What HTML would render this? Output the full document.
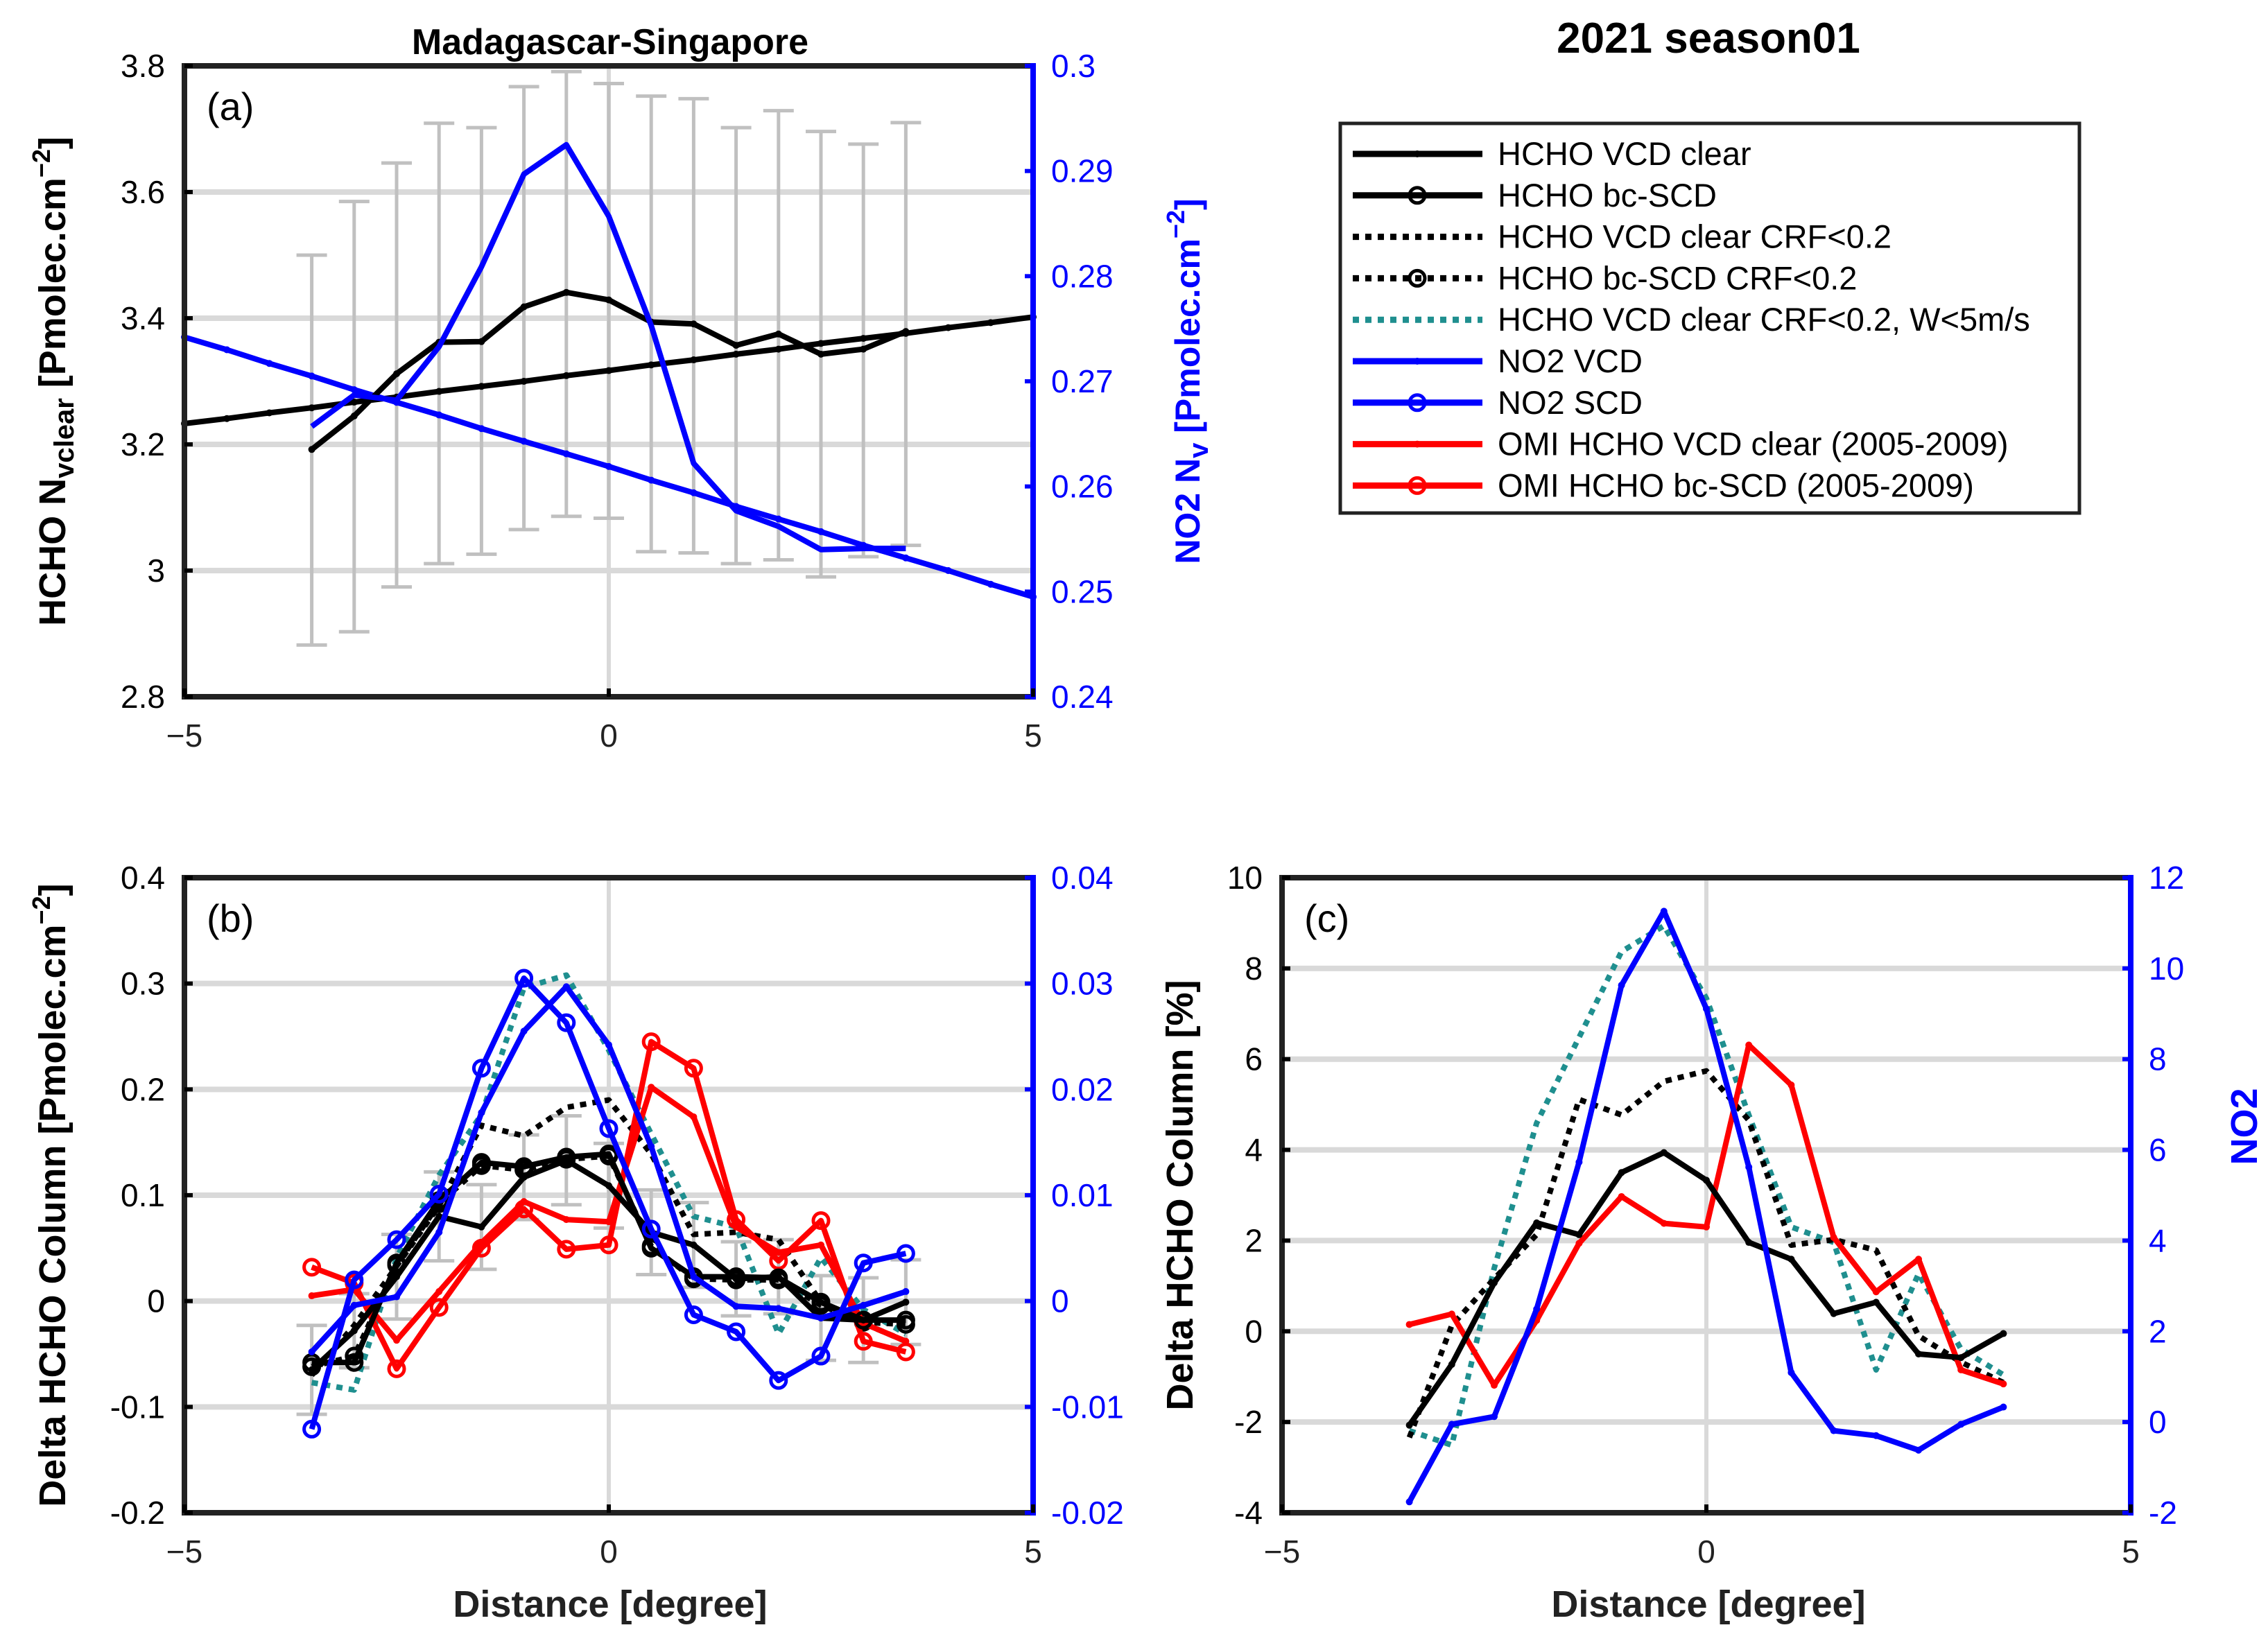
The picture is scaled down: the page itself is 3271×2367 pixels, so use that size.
<!DOCTYPE html>
<html><head><meta charset="utf-8"><style>
html,body{margin:0;padding:0;background:#fff;}
svg{display:block;}
text{font-family:"Liberation Sans Narrow","Liberation Sans",sans-serif;}
</style></head><body>
<svg id="fig" width="3271" height="2367" viewBox="0 0 3271 2367" xmlns="http://www.w3.org/2000/svg"></svg>
<script>
const xs = [-3.5,-3,-2.5,-2,-1.5,-1,-0.5,0,0.5,1,1.5,2,2.5,3,3.5];
// Panel (a)
const aHchoBcScd = [3.192,3.245,3.312,3.362,3.363,3.418,3.441,3.429,3.394,3.391,3.357,3.375,3.343,3.351,3.379];
const aErrHigh = [3.50,3.585,3.646,3.709,3.702,3.767,3.791,3.772,3.752,3.748,3.702,3.729,3.696,3.676,3.710];
const aErrLow = [2.882,2.903,2.974,3.011,3.026,3.065,3.086,3.083,3.030,3.028,3.011,3.017,2.990,3.022,3.040];
const aFitX = [-5,-4.5,-4,-3.5,-3,-2.5,-2,-1.5,-1,-0.5,0,0.5,1,1.5,2,2.5,3,3.5,4,4.5,5];
const aHchoFit = [3.233,3.241,3.250,3.258,3.267,3.275,3.284,3.292,3.300,3.309,3.317,3.326,3.334,3.343,3.351,3.360,3.368,3.376,3.385,3.393,3.402];
const aNo2Scd = [0.2657,0.2687,0.2682,0.2733,0.2809,0.2897,0.2925,0.2857,0.2753,0.2622,0.2577,0.2562,0.2540,0.2541,0.2541];
const aNo2Fit = [0.2742,0.2730,0.2717,0.2705,0.2692,0.2680,0.2668,0.2655,0.2643,0.2631,0.2619,0.2606,0.2594,0.2581,0.2569,0.2557,0.2544,0.2532,0.2520,0.2507,0.2495];
// Panel (b)
const bHchoVcd = [-0.065,-0.028,0.023,0.080,0.070,0.117,0.133,0.109,0.065,0.053,0.021,0.023,-0.016,-0.018,-0.001];
const bHchoBc = [-0.058,-0.058,0.036,0.095,0.131,0.127,0.136,0.139,0.050,0.023,0.023,0.022,-0.001,-0.018,-0.018];
const bHchoVcdCrf = [-0.070,-0.023,0.033,0.090,0.166,0.156,0.183,0.190,0.139,0.063,0.065,0.058,-0.001,-0.021,-0.038];
const bHchoBcCrf = [-0.062,-0.052,0.034,0.092,0.128,0.124,0.134,0.137,0.052,0.021,0.020,0.020,-0.004,-0.020,-0.022];
const bHchoW = [-0.077,-0.084,0.041,0.119,0.176,0.296,0.308,0.237,0.158,0.080,0.070,-0.031,0.041,-0.008,-0.031];
const bNo2Vcd = [-0.0048,-0.0004,0.0004,0.0065,0.0178,0.0255,0.0297,0.0242,0.0146,0.0023,-0.0005,-0.0007,-0.0016,-0.0004,0.0009];
const bNo2Scd = [-0.0121,0.0020,0.0058,0.0101,0.0220,0.0305,0.0263,0.0163,0.0068,-0.0013,-0.0029,-0.0075,-0.0052,0.0036,0.0045];
const bOmiVcd = [0.005,0.011,-0.037,0.009,0.055,0.094,0.077,0.075,0.202,0.174,0.070,0.046,0.053,-0.021,-0.038];
const bOmiBc = [0.032,0.017,-0.064,-0.006,0.050,0.087,0.049,0.053,0.245,0.220,0.077,0.038,0.076,-0.038,-0.048];
const bErrHalf = [0.042,0.035,0.040,0.042,0.040,0.040,0.042,0.040,0.040,0.040,0.035,0.035,0.040,0.040,0.040];
// Panel (c)
const cHchoVcd = [-2.07,-0.73,1.07,2.39,2.13,3.50,3.94,3.33,1.96,1.59,0.39,0.64,-0.50,-0.58,-0.05];
const cHchoVcdCrf = [-2.34,0.13,1.16,2.13,5.11,4.77,5.51,5.74,4.65,1.90,2.02,1.79,-0.10,-0.68,-1.13];
const cHchoW = [-2.19,-2.51,1.39,4.59,6.48,8.37,8.94,7.34,4.77,2.30,1.96,-0.85,1.27,-0.39,-0.96];
const cOmi = [0.15,0.38,-1.19,0.24,1.94,2.97,2.38,2.30,6.31,5.43,2.07,0.87,1.59,-0.85,-1.16];
const cNo2 = [-1.76,-0.05,0.12,2.49,5.73,9.63,11.26,9.11,5.62,1.09,-0.19,-0.30,-0.62,-0.05,0.33];
// ticks
const xTicks = [-5,0,5];
const aLeftTicks = [2.8,3,3.2,3.4,3.6,3.8];
const aLeftLabels = ["2.8","3","3.2","3.4","3.6","3.8"];
const aRightTicks = [0.24,0.25,0.26,0.27,0.28,0.29,0.30];
const aRightLabels = ["0.24","0.25","0.26","0.27","0.28","0.29","0.3"];
const bLeftTicks = [-0.2,-0.1,0,0.1,0.2,0.3,0.4];
const bLeftLabels = ["-0.2","-0.1","0","0.1","0.2","0.3","0.4"];
const bRightTicks = [-0.02,-0.01,0,0.01,0.02,0.03,0.04];
const bRightLabels = ["-0.02","-0.01","0","0.01","0.02","0.03","0.04"];
const cLeftTicks = [-4,-2,0,2,4,6,8,10];
const cLeftLabels = ["-4","-2","0","2","4","6","8","10"];
const cRightTicks = [-2,0,2,4,6,8,10,12];
const cRightLabels = ["-2","0","2","4","6","8","10","12"];

const NS="http://www.w3.org/2000/svg";
const svg=document.getElementById('fig');
function mk(tag,attrs,parent,txt){const e=document.createElementNS(NS,tag);for(const k in attrs)e.setAttribute(k,attrs[k]);if(txt!==undefined)e.textContent=txt;(parent||svg).appendChild(e);return e;}
function axis(x0,x1,y0,y1,xmin,xmax,ymin,ymax){return{x:v=>x0+(v-xmin)/(xmax-xmin)*(x1-x0),y:v=>y1-(v-ymin)/(ymax-ymin)*(y1-y0)};}
const BLUE="#0000ff",RED="#ff0000",TEAL="#1f8f8f",GRID="#d9d9d9";

function drawLine(g,X,Y,xa,ya,color,name,dash,marker){
  const pts=xa.map((v,i)=>X(v).toFixed(1)+','+Y(ya[i]).toFixed(1)).join(' ');
  const pl=mk('polyline',{points:pts,fill:'none',stroke:color,'stroke-width':8,'stroke-linejoin':'round','stroke-dasharray':dash||'none'},g);
  
  
  xa.forEach((v,i)=>{
    if(marker==='o'){const c=mk('circle',{cx:X(v),cy:Y(ya[i]),r:11,fill:'none',stroke:color,'stroke-width':5},g);
      
      }
    else if(marker==='.'){const c=mk('circle',{cx:X(v),cy:Y(ya[i]),r:5,fill:color},g);
      
      }
  });
}
function panel(p){
  const g=mk('g',{});
  
  
  const L=axis(p.x0,p.x1,p.y0,p.y1,-5,5,p.lmin,p.lmax);
  const R=axis(p.x0,p.x1,p.y0,p.y1,-5,5,p.rmin,p.rmax);
  p.lt.forEach(t=>{const l=mk('line',{x1:p.x0,x2:p.x1,y1:L.y(t),y2:L.y(t),stroke:GRID,'stroke-width':8},g);
    
    });
  const v=mk('line',{x1:L.x(0),x2:L.x(0),y1:p.y0,y2:p.y1,stroke:GRID,'stroke-width':6},g);
  
  
  p.draw(g,L,R);
  const ax=mk('path',{d:`M${p.x1},${p.y0} L${p.x0},${p.y0} L${p.x0},${p.y1} L${p.x1},${p.y1}`,fill:'none',stroke:'#222','stroke-width':8},g);
  
  
  const ra=mk('line',{x1:p.x1,x2:p.x1,y1:p.y0-4,y2:p.y1+4,stroke:BLUE,'stroke-width':8},g);
  
  
  p.lt.forEach((t,i)=>{
    mk('line',{x1:p.x0,x2:p.x0+12,y1:L.y(t),y2:L.y(t),stroke:'#000','stroke-width':6},g);
    const tx=mk('text',{x:p.x0-28,y:L.y(t)+16,'text-anchor':'end','font-size':46,fill:'#000'},g,p.ll[i]);
    
    
  });
  p.rt.forEach((t,i)=>{
    mk('line',{x1:p.x1-12,x2:p.x1,y1:R.y(t),y2:R.y(t),stroke:BLUE,'stroke-width':6},g);
    const tx=mk('text',{x:p.x1+26,y:R.y(t)+16,'text-anchor':'start','font-size':46,fill:BLUE},g,p.rl[i]);
    
    
  });
  xTicks.forEach(t=>{
    mk('line',{x1:L.x(t),x2:L.x(t),y1:p.y1,y2:p.y1-12,stroke:'#000','stroke-width':6},g);
    const tx=mk('text',{x:L.x(t),y:p.y1+72,'text-anchor':'middle','font-size':46,fill:'#222'},g,String(t).replace('-','−'));
    
    
  });
  const pl=mk('text',{x:p.x0+32,y:p.y0+78,'font-size':56,fill:'#000'},g,'('+p.id+')');
  
  
}

panel({id:'a',x0:266,x1:1490,y0:95,y1:1005,lmin:2.8,lmax:3.8,rmin:0.24,rmax:0.30,lt:aLeftTicks,ll:aLeftLabels,rt:aRightTicks,rl:aRightLabels,
 draw:(g,L,R)=>{
  xs.forEach((x,i)=>{
    const X=L.x(x);
    const e=mk('path',{d:`M${X},${L.y(aErrLow[i])} V${L.y(aErrHigh[i])} M${X-22},${L.y(aErrLow[i])} H${X+22} M${X-22},${L.y(aErrHigh[i])} H${X+22}`,stroke:'#c0c0c0','stroke-width':5,fill:'none'},g);
    
    
  });
  drawLine(g,L.x,L.y,aFitX,aHchoFit,'#000','hcho-fit','', '.');
  drawLine(g,R.x,R.y,aFitX,aNo2Fit,BLUE,'no2-fit','', '.');
  drawLine(g,L.x,L.y,xs,aHchoBcScd,'#000','hcho-bc-scd','', '.');
  drawLine(g,R.x,R.y,xs,aNo2Scd,BLUE,'no2-scd','', '');
 }});

panel({id:'b',x0:266,x1:1490,y0:1266,y1:2182,lmin:-0.2,lmax:0.4,rmin:-0.02,rmax:0.04,lt:bLeftTicks,ll:bLeftLabels,rt:bRightTicks,rl:bRightLabels,
 draw:(g,L,R)=>{
  xs.forEach((x,i)=>{
    const X=L.x(x),lo=L.y(bHchoVcd[i]-bErrHalf[i]),hi=L.y(bHchoVcd[i]+bErrHalf[i]);
    const e=mk('path',{d:`M${X},${lo} V${hi} M${X-22},${lo} H${X+22} M${X-22},${hi} H${X+22}`,stroke:'#c0c0c0','stroke-width':5,fill:'none'},g);
    
    
  });
  drawLine(g,L.x,L.y,xs,bHchoW,TEAL,'hcho-vcd-crf-wind','9 9','');
  drawLine(g,L.x,L.y,xs,bHchoVcdCrf,'#000','hcho-vcd-crf','9 9','');
  drawLine(g,L.x,L.y,xs,bHchoBcCrf,'#000','hcho-bc-scd-crf','9 9','o');
  drawLine(g,L.x,L.y,xs,bOmiVcd,RED,'omi-hcho-vcd','','.');
  drawLine(g,L.x,L.y,xs,bOmiBc,RED,'omi-hcho-bc-scd','','o');
  drawLine(g,L.x,L.y,xs,bHchoVcd,'#000','hcho-vcd','','.');
  drawLine(g,L.x,L.y,xs,bHchoBc,'#000','hcho-bc-scd','','o');
  drawLine(g,R.x,R.y,xs,bNo2Vcd,BLUE,'no2-vcd','','.');
  drawLine(g,R.x,R.y,xs,bNo2Scd,BLUE,'no2-scd','','o');
 }});

panel({id:'c',x0:1849,x1:3073,y0:1266,y1:2182,lmin:-4,lmax:10,rmin:-2,rmax:12,lt:cLeftTicks,ll:cLeftLabels,rt:cRightTicks,rl:cRightLabels,
 draw:(g,L,R)=>{
  drawLine(g,L.x,L.y,xs,cHchoW,TEAL,'hcho-vcd-crf-wind','9 9','');
  drawLine(g,L.x,L.y,xs,cHchoVcdCrf,'#000','hcho-vcd-crf','9 9','');
  drawLine(g,L.x,L.y,xs,cOmi,RED,'omi-hcho-vcd','','.');
  drawLine(g,L.x,L.y,xs,cHchoVcd,'#000','hcho-vcd','','.');
  drawLine(g,R.x,R.y,xs,cNo2,BLUE,'no2-vcd','','.');
 }});

function label(txt,x,y,rot,size,color,name,weight){
  const t=mk('text',{x:x,y:y,'text-anchor':'middle','font-size':size,fill:color,'font-weight':weight||'bold',transform:rot?`rotate(-90 ${x} ${y})`:''});
  t.innerHTML=txt;
  
  
  return t;
}
label('HCHO N<tspan font-size="40" dy="12">vclear</tspan><tspan dy="-12"> [Pmolec.cm</tspan><tspan font-size="36" dy="-22">−2</tspan><tspan dy="22">]</tspan>',94,550,true,54,'#000','left-y-axis-title-a','bold');
label('NO2 N<tspan font-size="40" dy="12">v</tspan><tspan dy="-12"> [Pmolec.cm</tspan><tspan font-size="36" dy="-22">−2</tspan><tspan dy="22">]</tspan>',1730,550,true,50,BLUE,'right-y-axis-title-a','bold');
label('Delta HCHO Column [Pmolec.cm<tspan font-size="36" dy="-22">−2</tspan><tspan dy="22">]</tspan>',94,1724,true,54,'#000','left-y-axis-title-b','bold');
label('Delta HCHO Column [%]',1720,1724,true,54,'#000','left-y-axis-title-c','bold');
label('NO2',3255,1625,true,54,BLUE,'right-y-axis-title-c','bold');
label('Distance [degree]',880,2332,false,54,'#222','x-axis-title-b','bold');
label('Distance [degree]',2464,2332,false,54,'#222','x-axis-title-c','bold');
label('Madagascar-Singapore',880,78,false,52,'#000','plot-title','bold');
label('2021 season01',2464,76,false,62,'#000','figure-title','bold');

const legendNames=["HCHO VCD clear","HCHO bc-SCD","HCHO VCD clear CRF<0.2","HCHO bc-SCD CRF<0.2","HCHO VCD clear CRF<0.2, W<5m/s","NO2 VCD","NO2 SCD","OMI HCHO VCD clear (2005-2009)","OMI HCHO bc-SCD (2005-2009)"];
const legendColors=['#000','#000','#000','#000',TEAL,BLUE,BLUE,RED,RED];
const legendDash=['','','9 9','9 9','9 9','','','',''];
const legendMarker=['.','o','','o','','.','o','.','o'];
const lg=mk('g',{});


const lb=mk('rect',{x:1933,y:178,width:1066,height:562,fill:'#fff',stroke:'#222','stroke-width':5},lg);


legendNames.forEach((n,i)=>{
  const y=222+i*59.8;
  const e=mk('g',{},lg);
  
  
  mk('line',{x1:1951,x2:2138,y1:y,y2:y,stroke:legendColors[i],'stroke-width':9,'stroke-dasharray':legendDash[i]||'none'},e);
  if(legendMarker[i]==='o') mk('circle',{cx:2044,cy:y,r:11,fill:'none',stroke:legendColors[i],'stroke-width':5},e);
  if(legendMarker[i]==='.') mk('circle',{cx:2044,cy:y,r:5,fill:legendColors[i]},e);
  mk('text',{x:2160,y:y+16,'font-size':47,fill:'#000'},e,n);
});
</script>
</body></html>
